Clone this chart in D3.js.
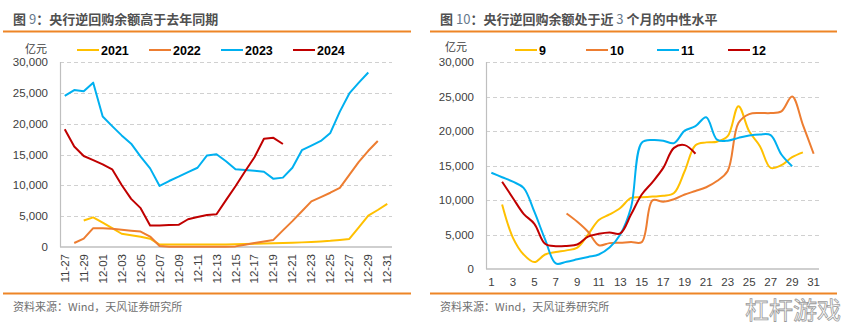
<!DOCTYPE html>
<html>
<head>
<meta charset="utf-8">
<script src="https://cdn.jsdelivr.net/npm/d3@7"></script>
<style>
  body { margin: 0; background: #fff; }
  svg { display: block; }
  text { font-family: "Liberation Sans", Arial, "Noto Sans CJK SC", sans-serif; }
  .cn { font-family: "Noto Sans CJK SC", "Liberation Sans", sans-serif; }
</style>
</head>
<body>
<div id="chart"></div>
<script>
// ---- left chart: 11-27 .. 12-31 by year ----
const dates = ["11-27","11-28","11-29","11-30","12-01","12-02","12-03","12-04","12-05","12-06",
  "12-07","12-08","12-09","12-10","12-11","12-12","12-13","12-14","12-15","12-16",
  "12-17","12-18","12-19","12-20","12-21","12-22","12-23","12-24","12-25","12-26",
  "12-27","12-28","12-29","12-30","12-31"];
const dateLabels = ["11-27","11-29","12-01","12-03","12-05","12-07","12-09","12-11","12-13","12-15",
  "12-17","12-19","12-21","12-23","12-25","12-27","12-29","12-31"];

const y2021 = [null, null, 4300, 4800, 3950, 3050, 2150, 1900, 1650, 1350,
  400, 400, 400, 400, 400, 400, 400, 420, 450, 480,
  510, 550, 600, 650, 700, 750, 820, 900, 1000, 1150,
  1300, 3200, 5100, 6000, 7000];
const y2022 = [null, 650, 1350, 3050, 3050, 2950, 2800, 2650, 2500, 1700,
  150, 50, 50, 50, 50, 50, 50, 50, 100, 350,
  650, 900, 1150, 2700, 4200, 5800, 7400, 8100, 8800, 9600,
  11700, 13800, 15600, 17200, null];
const y2023 = [24500, 25450, 25250, 26650, 21150, 19600, 18100, 16750, 14650, 12750,
  9900, 10700, 11400, 12150, 12850, 14850, 15050, 13900, 12600, 12500,
  12350, 12200, 11050, 11250, 12850, 15700, 16450, 17200, 18500, 21950,
  24900, 26650, 28300, null, null];
const y2024 = [19100, 16300, 14750, 14100, 13400, 12600, 10050, 7800, 6300, 3500,
  3500, 3550, 3600, 4500, 4850, 5200, 5300, 7600, 9850, 12250,
  14550, 17550, 17700, 16700, null, null, null, null, null, null,
  null, null, null, null, null];

// ---- right chart: day of month, by month ----
const days = ["1","2","3","4","5","6","7","8","9","10","11","12","13","14","15","16",
  "17","18","19","20","21","22","23","24","25","26","27","28","29","30","31"];
const dayLabels = ["1","3","5","7","9","11","13","15","17","19","21","23","25","27","29","31"];

const m9 = [null, 9350, 4550, 2100, 1000, 2100, 2450, 2700, 3100, 5000,
  7100, 7900, 8850, 10300, 10400, 10500, 10600, 11000, 14200, 17950,
  18350, 18450, 19250, 23600, 19950, 17800, 14650, 15050, 16200, 16900, null];
const m10 = [null, null, null, null, null, null, null, 8050, 6850, 5400,
  3450, 3750, 3800, 3900, 3900, 9950, 9750, 10100, 10800, 11300,
  11850, 12750, 14200, 21150, 22450, 22600, 22600, 22850, 25000, 20900, 16700];
const m11 = [13950, 13300, 12650, 11750, 8300, 4300, 800, 1050, 1400, 1750,
  2100, 3100, 5000, 8900, 18300, 18700, 18600, 18250, 20050, 20700,
  22000, 18750, 18600, 19000, 19350, 19500, 19400, 16600, 14900, null, null];
const m12 = [null, 12650, 10300, 8000, 6550, 3650, 3300, 3350, 3550, 4700,
  5100, 5300, 5150, 7900, 10800, 12600, 14650, 17550, 17950, 16700,
  null, null, null, null, null, null, null, null, null, null, null];

const yTicks = [0, 5000, 10000, 15000, 20000, 25000, 30000];
const colors = ["#FFC000", "#ED7D31", "#00B0F0", "#C00000"];
const orange = "#EE8526";

const svg = d3.select("#chart").append("svg")
  .attr("width", 848)
  .attr("height", 325);

svg.append("rect").attr("width", 848).attr("height", 325).attr("fill", "#fff");

function drawPanel(opt) {
  const g = svg.append("g");

  // title
  const title = g.append("text")
    .attr("class", "cn")
    .attr("x", opt.titleX)
    .attr("y", 24)
    .attr("font-size", 13)
    .attr("xml:space", "preserve")
    .style("white-space", "pre");
  opt.title.forEach(p => {
    title.append("tspan")
      .attr("font-weight", p.bold ? "bold" : "normal")
      .attr("fill", p.bold ? "#505050" : "#66788c")
      .text(p.t);
  });

  // orange rules
  g.append("line")
    .attr("x1", opt.ruleX[0]).attr("x2", opt.ruleX[1])
    .attr("y1", 31.5).attr("y2", 31.5)
    .attr("stroke", orange).attr("stroke-width", 2);
  g.append("line")
    .attr("x1", opt.ruleX[0]).attr("x2", opt.ruleX[1])
    .attr("y1", 293.5).attr("y2", 293.5)
    .attr("stroke", orange).attr("stroke-width", 2);

  // source
  g.append("text")
    .attr("class", "cn")
    .attr("x", opt.titleX)
    .attr("y", 311)
    .attr("font-size", 11)
    .attr("fill", "#707070")
    .text("资料来源：Wind，天风证券研究所");

  const x = d3.scalePoint()
    .domain(opt.cats)
    .range([opt.left, opt.right])
    .padding(0.5);
  const y = d3.scaleLinear()
    .domain([0, 30000])
    .range([opt.bottom, opt.top]);

  // unit
  g.append("text")
    .attr("class", "cn")
    .attr("x", opt.unitX)
    .attr("y", opt.unitY)
    .attr("text-anchor", "end")
    .attr("font-size", 11)
    .attr("fill", "#404040")
    .text("亿元");

  // grid
  g.selectAll(".grid")
    .data(yTicks.filter(d => d > 0))
    .join("line")
    .attr("class", "grid")
    .attr("x1", opt.left).attr("x2", opt.right)
    .attr("y1", d => Math.round(y(d)) + 0.5).attr("y2", d => Math.round(y(d)) + 0.5)
    .attr("stroke", "#d0d0d0")
    .attr("stroke-dasharray", "4,3");

  // y labels
  g.selectAll(".ylab")
    .data(yTicks)
    .join("text")
    .attr("class", "ylab")
    .attr("x", opt.left - 12)
    .attr("y", d => y(d))
    .attr("dy", "0.35em")
    .attr("text-anchor", "end")
    .attr("font-size", 11.5)
    .attr("fill", "#404040")
    .text(d => d3.format(",")(d));

  // axes lines
  g.append("line")
    .attr("x1", opt.left + 0.5).attr("x2", opt.left + 0.5)
    .attr("y1", opt.top).attr("y2", opt.bottom)
    .attr("stroke", "#bfbfbf").attr("stroke-width", 1.2);
  g.append("line")
    .attr("x1", opt.left).attr("x2", opt.right)
    .attr("y1", opt.bottom).attr("y2", opt.bottom)
    .attr("stroke", "#bfbfbf").attr("stroke-width", 1.5);

  // x labels
  const xl = g.selectAll(".xlab")
    .data(opt.xLabels)
    .join("text")
    .attr("class", "xlab")
    .attr("font-size", 11.5)
    .attr("fill", "#404040")
    .text(d => d);
  if (opt.rotate) {
    xl.attr("text-anchor", "end")
      .attr("transform", d => `translate(${x(d)},${opt.bottom + 7}) rotate(-90)`)
      .attr("dy", "0.35em");
  } else {
    xl.attr("text-anchor", "middle")
      .attr("x", d => x(d))
      .attr("y", opt.bottom + 17);
  }

  // lines
  const line = d3.line()
    .defined(d => d.v != null)
    .x(d => x(d.c))
    .y(d => y(d.v))
    .curve(opt.curve);

  opt.series.forEach((s, i) => {
    const pts = opt.cats.map((c, j) => ({ c: c, v: s.values[j] }));
    g.append("path")
      .datum(pts)
      .attr("fill", "none")
      .attr("stroke", colors[i])
      .attr("stroke-width", 2)
      .attr("stroke-linejoin", "round")
      .attr("d", line);
  });

  // legend
  const lg = g.selectAll(".leg")
    .data(opt.series)
    .join("g")
    .attr("class", "leg")
    .attr("transform", (d, i) => `translate(${opt.legendX + i * opt.legendStep},${opt.legendY})`);
  lg.append("line")
    .attr("x1", 0).attr("x2", 22)
    .attr("stroke", (d, i) => colors[i])
    .attr("stroke-width", 2);
  lg.append("text")
    .attr("x", 24)
    .attr("dy", "0.36em")
    .attr("font-size", 12.5)
    .attr("font-weight", "bold")
    .attr("fill", "#000")
    .text(d => d.name);
}

drawPanel({
  title: [{ t: "图 ", bold: true }, { t: "9", bold: false }, { t: "：央行逆回购余额高于去年同期", bold: true }],
  titleX: 13,
  ruleX: [3, 411],
  cats: dates,
  xLabels: dateLabels,
  rotate: true,
  left: 60, right: 392, top: 62, bottom: 247,
  unitX: 47, unitY: 53,
  legendX: 77, legendY: 50, legendStep: 72,
  curve: d3.curveLinear,
  series: [
    { name: "2021", values: y2021 },
    { name: "2022", values: y2022 },
    { name: "2023", values: y2023 },
    { name: "2024", values: y2024 }
  ]
});

drawPanel({
  title: [{ t: "图 ", bold: true }, { t: "10", bold: false }, { t: "：央行逆回购余额处于近 ", bold: true },
          { t: "3", bold: false }, { t: " 个月的中性水平", bold: true }],
  titleX: 440,
  ruleX: [430, 837],
  cats: days,
  xLabels: dayLabels,
  rotate: false,
  left: 486, right: 819, top: 62, bottom: 269,
  unitX: 467, unitY: 51,
  legendX: 515, legendY: 50, legendStep: 71,
  curve: d3.curveCatmullRom.alpha(0.5),
  series: [
    { name: "9", values: m9 },
    { name: "10", values: m10 },
    { name: "11", values: m11 },
    { name: "12", values: m12 }
  ]
});

// watermark
svg.append("text")
  .attr("class", "cn")
  .attr("x", 745)
  .attr("y", 319)
  .attr("font-size", 24)
  .attr("fill", "#fff")
  .attr("stroke", "#9a9a9a")
  .attr("stroke-width", 0.8)
  .text("杠杆游戏");
</script>
</body>
</html>
